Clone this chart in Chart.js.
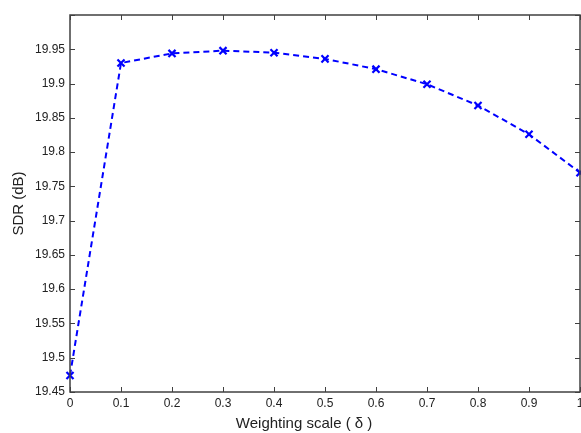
<!DOCTYPE html>
<html>
<head>
<meta charset="utf-8">
<script src="https://cdn.jsdelivr.net/npm/chart.js@4/dist/chart.umd.min.js"></script>
<style>
  body { margin: 0; background: #fff; }
  canvas { display: block; }
</style>
</head>
<body>
<canvas id="sdrChart" width="581" height="433"></canvas>
<script>
// weighting scale (delta) vs. SDR
var weights = [0, 0.1, 0.2, 0.3, 0.4, 0.5, 0.6, 0.7, 0.8, 0.9, 1.0];
var sdrValues = [19.474, 19.930, 19.944, 19.948, 19.945, 19.936, 19.921, 19.899, 19.868, 19.826, 19.770];

var xTitle = "Weighting scale ( \u03b4 )";
var yTitle = "SDR (dB)";

var points = [];
weights.forEach(function (w, i) {
    points.push({ x: w, y: sdrValues[i] });
});

// MATLAB style box with inward ticks on all four sides, plus the x label
var matlabBox = {
    id: "matlabBox",
    afterDraw: function (chart) {
        var ctx = chart.ctx;
        var area = chart.chartArea;
        var xs = chart.scales.x;
        var ys = chart.scales.y;
        var len = 5;
        ctx.save();
        ctx.strokeStyle = "#404040";
        ctx.lineWidth = 1;
        ctx.beginPath();
        xs.ticks.forEach(function (t) {
            var px = Math.round(xs.getPixelForValue(t.value)) + 0.5;
            ctx.moveTo(px, area.bottom);
            ctx.lineTo(px, area.bottom - len);
            ctx.moveTo(px, area.top);
            ctx.lineTo(px, area.top + len);
        });
        ys.ticks.forEach(function (t) {
            var py = Math.round(ys.getPixelForValue(t.value)) + 0.5;
            ctx.moveTo(area.left, py);
            ctx.lineTo(area.left + len, py);
            ctx.moveTo(area.right, py);
            ctx.lineTo(area.right - len, py);
        });
        ctx.stroke();
        ctx.lineWidth = 1.5;
        ctx.strokeRect(area.left, area.top, area.right - area.left, area.bottom - area.top);

        // x label, sits a bit left of centre like the original figure
        ctx.fillStyle = "#222";
        ctx.font = "15px 'Liberation Sans', Arial";
        ctx.textAlign = "center";
        ctx.textBaseline = "middle";
        ctx.fillText(xTitle, xs.getPixelForValue(0.459), 424);
        ctx.restore();
    }
};

new Chart(document.getElementById("sdrChart"), {
    type: "line",
    data: {
        datasets: [
            {
                data: points,
                borderColor: "#0000ff",
                backgroundColor: "#0000ff",
                borderWidth: 2,
                borderDash: [6, 4],
                pointStyle: "crossRot",
                pointRadius: 5,
                pointBorderWidth: 2.2,
                pointHoverRadius: 5,
                fill: false,
                tension: 0,
                clip: false
            }
        ]
    },
    options: {
        responsive: false,
        animation: false,
        events: [],
        layout: {
            autoPadding: false, // markers may hang over the box edge
            padding: { top: 15, right: 1, left: 0, bottom: 0 }
        },
        plugins: {
            legend: { display: false },
            tooltip: { enabled: false }
        },
        scales: {
            x: {
                type: "linear",
                min: 0,
                max: 1,
                afterFit: function (scale) {
                    scale.height = 41;
                    scale.paddingLeft = 0;
                    scale.paddingRight = 0;
                },
                grid: { display: false, drawTicks: false },
                border: { display: false },
                ticks: {
                    stepSize: 0.1,
                    padding: 4,
                    color: "#222",
                    font: { family: "Liberation Sans, Arial", size: 12 },
                    maxRotation: 0,
                    callback: function (v) { return String(+v.toFixed(1)); }
                }
            },
            y: {
                type: "linear",
                min: 19.45,
                max: 20.0,
                afterFit: function (scale) {
                    scale.width = 70;
                    scale.paddingTop = 0;
                    scale.paddingBottom = 0;
                },
                grid: { display: false, drawTicks: false },
                border: { display: false },
                ticks: {
                    stepSize: 0.05,
                    padding: 5,
                    color: "#222",
                    font: { family: "Liberation Sans, Arial", size: 12 },
                    callback: function (v) {
                        if (v > 19.999) return "";
                        return String(+v.toFixed(2));
                    }
                },
                title: {
                    display: true,
                    text: yTitle,
                    color: "#222",
                    padding: { top: 10, bottom: 0 },
                    font: { family: "Liberation Sans, Arial", size: 15 }
                }
            }
        }
    },
    plugins: [matlabBox]
});
</script>
</body>
</html>
